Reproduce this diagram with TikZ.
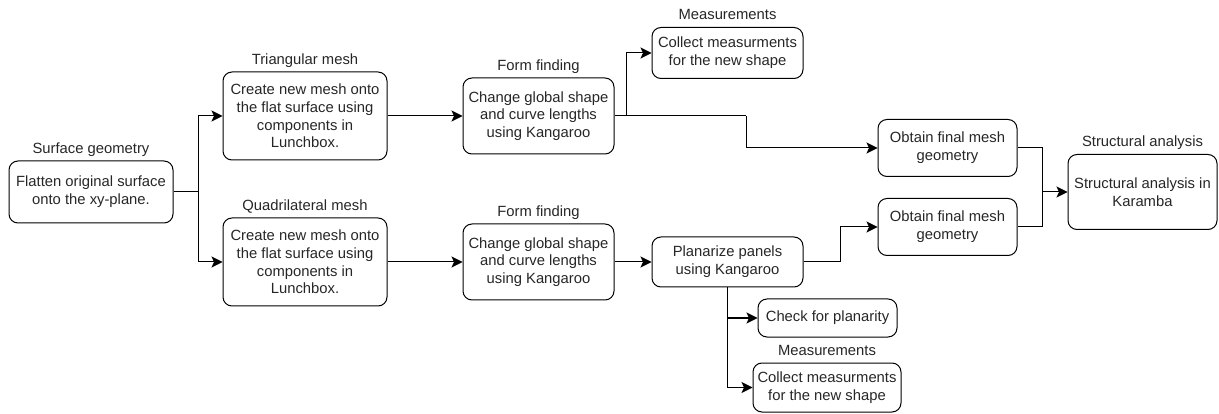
\documentclass[tikz,border=0pt]{standalone}
\usepackage{fontspec}
\setmainfont{Liberation Sans}
\usetikzlibrary{arrows.meta,calc}
\begin{document}
\begin{tikzpicture}[x=1pt,y=-1pt,
  font=\fontsize{14.8}{17.7}\selectfont,
  box/.style={draw=black, line width=1pt, rounded corners=9pt, align=center, inner sep=0pt, text=black!85},
  lbl/.style={anchor=base, inner sep=0pt, text=black!85},
  tip/.tip={Stealth[length=11pt,width=11pt,inset=2.5pt]},
  arr/.style={draw=black, line width=1pt, -tip},
  ln/.style={draw=black, line width=1pt}]
\useasboundingbox (0,0) rectangle (1219,414);
% boxes
\node[box, minimum width=164pt, minimum height=62pt] (surf) at (91,192) {Flatten original surface\\onto the xy-plane.};
\node[box, minimum width=164pt, minimum height=88pt] (tri) at (305,116) {Create new mesh onto\\the flat surface using\\components in\\Lunchbox.};
\node[box, minimum width=164pt, minimum height=88pt] (quad) at (305,262) {Create new mesh onto\\the flat surface using\\components in\\Lunchbox.};
\node[box, minimum width=151pt, minimum height=76pt] (ff1) at (538.5,116) {Change global shape\\and curve lengths\\using Kangaroo};
\node[box, minimum width=151pt, minimum height=76pt] (ff2) at (538.5,262) {Change global shape\\and curve lengths\\using Kangaroo};
\node[box, minimum width=151pt, minimum height=51pt] (meas1) at (727.5,53) {Collect measurments\\for the new shape};
\node[box, minimum width=151pt, minimum height=50pt] (plan) at (727.5,262) {Planarize panels\\using Kangaroo};
\node[box, minimum width=139pt, minimum height=57pt] (ob1) at (947.5,148) {Obtain final mesh\\geometry};
\node[box, minimum width=139pt, minimum height=57pt] (ob2) at (947.5,227) {Obtain final mesh\\geometry};
\node[box, minimum width=149pt, minimum height=75pt] (str) at (1142.5,192) {Structural analysis in\\Karamba};
\node[box, minimum width=139pt, minimum height=38pt] (check) at (827.5,318) {Check for planarity};
\node[box, minimum width=148pt, minimum height=49pt] (meas2) at (827,387.5) {Collect measurments\\for the new shape};
% labels
\node[lbl] (lsurf) at ([yshift=7pt]surf.north) {Surface geometry};
\node[lbl] (ltri) at ([yshift=7pt]tri.north) {Triangular mesh};
\node[lbl] (lquad) at ([yshift=7pt]quad.north) {Quadrilateral mesh};
\node[lbl] (lff1) at ([yshift=7pt]ff1.north) {Form finding};
\node[lbl] (lff2) at ([yshift=7pt]ff2.north) {Form finding};
\node[lbl] (lmeas1) at ([yshift=7pt]meas1.north) {Measurements};
\node[lbl] (lstr) at ([yshift=7pt]str.north) {Structural analysis};
\node[lbl] (lmeas2) at ([yshift=7pt]meas2.north) {Measurements};
% junctions
\coordinate (j1) at (198,192);
\coordinate (b1) at (626,116);
\coordinate (k1) at (746,116);
\coordinate (k2) at (840,262);
\coordinate (j2) at (1042,192);
% connectors
\draw[ln] (surf.east) -- (j1);
\draw[arr] (j1) |- (tri.west);
\draw[arr] (j1) |- (quad.west);
\draw[arr] (tri.east) -- (ff1.west);
\draw[arr] (quad.east) -- (ff2.west);
\draw[ln] (ff1.east) -- (k1);
\draw[arr] (b1) |- (meas1.west);
\draw[arr] (k1) |- (ob1.west);
\draw[arr] (ff2.east) -- (plan.west);
\draw[ln] (plan.east) -- (k2);
\draw[arr] (k2) |- (ob2.west);
\draw[arr] (plan.south) |- (check.west);
\draw[arr] (plan.south) |- (meas2.west);
\draw[ln] (ob1.east) -| (j2);
\draw[ln] (ob2.east) -| (j2);
\draw[arr] (j2) -- (str.west);
\end{tikzpicture}
\end{document}
